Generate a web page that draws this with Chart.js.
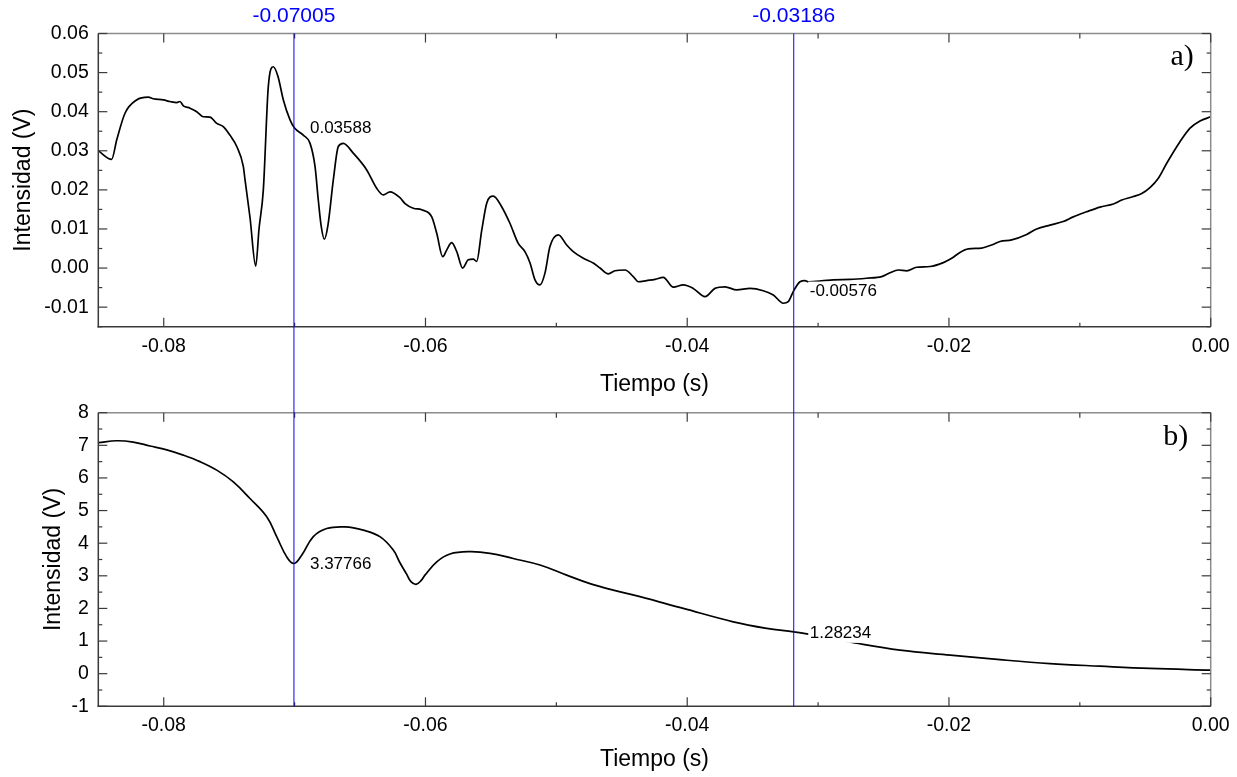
<!DOCTYPE html>
<html><head><meta charset="utf-8">
<script src="https://cdn.jsdelivr.net/npm/chart.js@4/dist/chart.umd.min.js"></script>
<style>
html,body{margin:0;padding:0;background:#fff;width:1237px;height:777px;overflow:hidden}
canvas{position:absolute;left:0}
#c1{top:0}
#c2{top:400px}
</style></head><body>
<canvas id="c1" width="1237" height="400"></canvas>
<canvas id="c2" width="1237" height="377"></canvas>
<script>
// ---- Panel a) data ----
const timeA = [-0.0850,-0.08398,-0.08359,-0.08296,-0.08207,-0.08118,-0.08080,-0.08003,-0.07952,-0.07901,-0.07876,-0.07850,-0.07799,-0.07748,-0.07698,-0.07647,-0.07595,-0.07545,-0.07494,-0.07442,-0.07392,-0.07379,-0.07341,-0.07297,-0.07272,-0.07239,-0.07201,-0.07163,-0.07127,-0.07086,-0.07035,-0.07002,-0.06934,-0.06882,-0.06844,-0.06819,-0.06798,-0.06773,-0.06745,-0.06704,-0.06666,-0.06628,-0.06552,-0.06449,-0.06373,-0.06322,-0.06271,-0.06195,-0.06156,-0.06093,-0.06029,-0.05952,-0.05914,-0.05868,-0.05838,-0.05800,-0.05761,-0.05716,-0.05673,-0.05635,-0.05609,-0.05570,-0.05532,-0.05482,-0.05418,-0.05354,-0.05291,-0.05240,-0.05201,-0.05163,-0.05125,-0.05087,-0.05049,-0.04985,-0.04921,-0.04871,-0.04794,-0.04718,-0.04666,-0.04603,-0.04552,-0.04475,-0.04412,-0.04374,-0.04310,-0.04246,-0.04183,-0.04106,-0.04030,-0.03954,-0.03864,-0.03788,-0.03711,-0.03622,-0.03520,-0.03419,-0.03342,-0.03266,-0.03228,-0.03186,-0.03138,-0.03100,-0.03075,-0.02973,-0.02884,-0.02756,-0.02629,-0.02514,-0.02451,-0.02387,-0.02323,-0.02247,-0.02145,-0.02043,-0.01979,-0.01916,-0.01852,-0.01750,-0.01674,-0.01610,-0.01521,-0.01406,-0.01330,-0.01228,-0.01127,-0.01050,-0.00948,-0.00846,-0.00744,-0.00680,-0.00592,-0.00527,-0.00464,-0.00400,-0.00336,-0.00235,-0.00158,-0.00082,0.0000];
const voltA = [0.0300,0.0278,0.0328,0.0396,0.0430,0.0437,0.0433,0.0430,0.0426,0.0423,0.0426,0.0415,0.0409,0.0400,0.0387,0.0386,0.0370,0.0362,0.0340,0.0311,0.0260,0.0226,0.0130,0.0005,0.0100,0.0200,0.0464,0.0515,0.0490,0.0430,0.0379,0.0359,0.0340,0.0319,0.0260,0.0174,0.0110,0.0074,0.0110,0.0226,0.0311,0.0319,0.0294,0.0251,0.0204,0.0187,0.0195,0.0180,0.0165,0.0153,0.0149,0.0131,0.0089,0.0029,0.0046,0.0065,0.0042,0.0000,0.0021,0.0023,0.0017,0.0097,0.0166,0.0184,0.0157,0.0114,0.0063,0.0042,0.0013,-0.0030,-0.0043,-0.0013,0.0055,0.0085,0.0059,0.0042,0.0025,0.0013,0.0000,-0.0015,-0.0007,-0.0005,-0.0022,-0.0035,-0.0032,-0.0029,-0.0024,-0.0049,-0.0043,-0.0052,-0.0073,-0.0052,-0.0048,-0.0056,-0.0052,-0.0058,-0.0069,-0.0090,-0.0086,-0.00576,-0.0035,-0.0032,-0.0035,-0.0033,-0.0030,-0.0029,-0.0026,-0.0022,-0.0012,-0.0005,-0.0007,0.0002,0.0004,0.0014,0.0025,0.0040,0.0049,0.0051,0.0059,0.0068,0.0072,0.0086,0.0100,0.0110,0.0119,0.0131,0.0144,0.0156,0.0164,0.0174,0.0183,0.0191,0.0206,0.0230,0.0268,0.0323,0.0358,0.0376,0.0387];

// ---- Panel b) data ----
const timeB = [-0.0850,-0.08359,-0.08233,-0.08105,-0.07977,-0.07851,-0.07723,-0.07595,-0.07468,-0.07341,-0.07213,-0.07137,-0.07060,-0.07005,-0.06946,-0.06857,-0.06755,-0.06615,-0.06475,-0.06348,-0.06246,-0.06195,-0.06144,-0.06111,-0.06072,-0.06034,-0.06004,-0.05914,-0.05813,-0.05660,-0.05507,-0.05329,-0.05125,-0.04921,-0.04743,-0.04565,-0.04361,-0.04030,-0.03648,-0.03393,-0.03186,-0.03075,-0.02718,-0.02374,-0.01990,-0.01610,-0.01228,-0.00846,-0.00464,0.0000];
const voltB = [7.08,7.14,7.10,6.98,6.86,6.70,6.50,6.24,5.88,5.37,4.81,4.20,3.58,3.378,3.63,4.20,4.45,4.50,4.40,4.20,3.79,3.40,3.05,2.82,2.74,2.85,3.02,3.43,3.67,3.74,3.69,3.53,3.33,3.02,2.76,2.56,2.36,2.00,1.59,1.39,1.282,1.21,0.94,0.72,0.57,0.43,0.31,0.23,0.16,0.11];

// ---- axes / markers ----
const timeRange = [-0.085, 0];
const timeStep = 0.02;
const rangeA = [-0.015, 0.06];
const stepA = 0.01;
const rangeB = [-1, 8];
const stepB = 1;
const markerTimes = [-0.07005, -0.03186];
const markerLabels = ['-0.07005', '-0.03186'];
const markerValuesA = ['0.03588', '-0.00576'];
const markerValuesB = ['3.37766', '1.28234'];
const panelLabels = ['a)', 'b)'];
const xTitle = 'Tiempo (s)';
const yTitle = 'Intensidad (V)';

const SANS = "'Liberation Sans', Arial, sans-serif";
Chart.defaults.font.family = SANS;
Chart.defaults.color = '#000';

function minorValues(vals, min, max) {
  const out = [];
  if (vals.length < 2) return out;
  const step = vals[1] - vals[0];
  const first = vals[0] - step / 2;
  if (first >= min - 1e-12) out.push(first);
  for (let i = 0; i < vals.length - 1; i++) out.push((vals[i] + vals[i + 1]) / 2);
  const last = vals[vals.length - 1] + step / 2;
  if (last <= max + 1e-12) out.push(last);
  return out;
}

function makePlugin(opt) {
  return {
    id: 'frame' + opt.id,
    afterDraw(chart) {
      const {ctx, chartArea: a, scales: {x, y}} = chart;
      const L = (x1, y1, x2, y2) => { ctx.beginPath(); ctx.moveTo(x1, y1); ctx.lineTo(x2, y2); ctx.stroke(); };
      ctx.save();
      ctx.lineWidth = 1.5;
      ctx.strokeStyle = '#8c8c8c';
      L(a.left, a.top, a.right, a.top);
      L(a.right, a.top, a.right, a.bottom);
      ctx.strokeStyle = '#3a3a3a';
      L(a.left, a.top, a.left, a.bottom + 0.75);
      L(a.left - 0.75, a.bottom, a.right, a.bottom);
      ctx.lineWidth = 1.2;
      ctx.strokeStyle = '#3a3a3a';
      const xv = x.ticks.map(t => t.value);
      const yv = y.ticks.map(t => t.value);
      xv.forEach(v => { const p = x.getPixelForValue(v); L(p, a.bottom, p, a.bottom - 9); L(p, a.top, p, a.top + 9); });
      minorValues(xv, x.min, x.max).forEach(v => { const p = x.getPixelForValue(v); L(p, a.bottom, p, a.bottom - 4); L(p, a.top, p, a.top + 5); });
      yv.forEach(v => { const p = y.getPixelForValue(v); L(a.left, p, a.left + 9, p); L(a.right, p, a.right - 9, p); });
      minorValues(yv, y.min, y.max).forEach(v => { const p = y.getPixelForValue(v); L(a.left, p, a.left + 4, p); L(a.right, p, a.right - 4, p); });
      ctx.strokeStyle = '#0000ff';
      ctx.lineWidth = 1;
      markerTimes.forEach(t => {
        const p = x.getPixelForValue(t);
        L(p, opt.lineTop(a), p, opt.lineBottom(a, chart));
      });
      if (opt.showMarkerLabels) {
        ctx.fillStyle = '#0000ff';
        ctx.font = '21px ' + SANS;
        ctx.textAlign = 'center';
        ctx.textBaseline = 'middle';
        markerTimes.forEach((t, i) => ctx.fillText(markerLabels[i], x.getPixelForValue(t), 16));
      }
      ctx.font = '17px ' + SANS;
      ctx.textAlign = 'left';
      ctx.textBaseline = 'middle';
      markerTimes.forEach((t, i) => {
        const px = x.getPixelForValue(t) + 16;
        const py = y.getPixelForValue(parseFloat(opt.values[i])) + 1;
        const w = ctx.measureText(opt.values[i]).width;
        ctx.fillStyle = '#fff';
        ctx.fillRect(px - 1.5, py - 10, w + 4, 20);
        ctx.fillStyle = '#000';
        ctx.fillText(opt.values[i], px, py);
      });
      ctx.font = '30px "Liberation Serif", "DejaVu Serif", serif';
      ctx.textAlign = 'right';
      ctx.textBaseline = 'alphabetic';
      ctx.fillStyle = '#000';
      ctx.fillText(opt.panel, a.right - opt.panelDx, a.top + opt.panelDy);
      ctx.restore();
    }
  };
}

function makeChart(canvasId, times, volts, yRange, yStep, yDigits, geom, lineOpts, plugin) {
  const pts = times.map((t, i) => ({x: t, y: volts[i]}));
  return new Chart(document.getElementById(canvasId), {
    type: 'line',
    data: { datasets: [Object.assign({ data: pts, borderColor: '#000', borderWidth: 1.7, pointRadius: 0, fill: false }, lineOpts)] },
    options: {
      responsive: false,
      animation: false,
      devicePixelRatio: 1,
      layout: { padding: { top: geom.top, right: geom.right, left: 0, bottom: 0 } },
      plugins: { legend: { display: false }, tooltip: { enabled: false } },
      scales: {
        x: {
          type: 'linear', min: timeRange[0], max: timeRange[1],
          grid: { display: false, drawTicks: false }, border: { display: false },
          ticks: { stepSize: timeStep, includeBounds: false, padding: 8, font: { size: 19.5 }, color: '#000', maxRotation: 0,
                   callback: v => v.toFixed(2) },
          title: { display: true, text: xTitle, font: { size: 23 }, color: '#000', padding: { top: 0, bottom: geom.xTitlePad } },
          afterFit: s => { s.height = geom.xHeight; s.paddingLeft = 0; s.paddingRight = 0; }
        },
        y: {
          type: 'linear', min: yRange[0], max: yRange[1],
          grid: { display: false, drawTicks: false }, border: { display: false },
          ticks: { stepSize: yStep, includeBounds: false, padding: 9.5, font: { size: 19.5 }, color: '#000',
                   callback: v => v.toFixed(yDigits) },
          title: { display: true, text: yTitle, font: { size: 23 }, color: '#000', padding: { top: geom.yTitlePad, bottom: 0 } },
          afterFit: s => { s.width = 98.3; s.paddingTop = 0; s.paddingBottom = 0; }
        }
      }
    },
    plugins: [plugin]
  });
}

makeChart('c1', timeA, voltA, rangeA, stepA, 2,
  { top: 33.5, right: 26.3, xHeight: 73.3, xTitlePad: 1.5, yTitlePad: 9.9 },
  { cubicInterpolationMode: 'monotone' },
  makePlugin({ id: 'A', values: markerValuesA, panel: panelLabels[0], panelDx: 17, panelDy: 31.5, showMarkerLabels: true,
               lineTop: a => a.top, lineBottom: (a, c) => c.height }));

makeChart('c2', timeB, voltB, rangeB, stepB, 0,
  { top: 12.7, right: 26.3, xHeight: 70.7, xTitlePad: 3.5, yTitlePad: 39.9 },
  { tension: 0.4 },
  makePlugin({ id: 'B', values: markerValuesB, panel: panelLabels[1], panelDx: 22.4, panelDy: 32.3, showMarkerLabels: false,
               lineTop: a => 0, lineBottom: a => a.bottom }));
</script>
</body></html>
